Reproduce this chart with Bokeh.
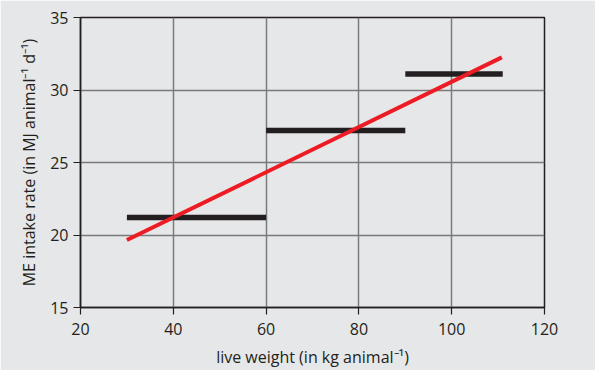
from bokeh.plotting import figure
from bokeh.models import Range1d, FixedTicker
from bokeh.embed import file_html
from bokeh.resources import INLINE

# data
step_x0 = [30, 60, 90]
step_x1 = [60, 90, 111]
step_y = [21.2, 27.2, 31.1]
fit_x = [30, 110.8]
fit_y = [19.65, 32.25]
x_ticks = [20, 40, 60, 80, 100, 120]
y_ticks = [15, 20, 25, 30, 35]

BG = "#e6e7e8"
INK = "#231f20"

p = figure(width=595, height=370, output_backend="svg", toolbar_location=None,
           x_range=Range1d(20, 120), y_range=Range1d(15, 35),
           min_border_left=80, min_border_right=51, min_border_top=17, min_border_bottom=63)
p.background_fill_color = BG
p.border_fill_color = BG
p.outline_line_color = INK
p.outline_line_width = 1.5

for ax in (p.xaxis[0], p.yaxis[0]):
    ax.axis_line_color = INK
    ax.axis_line_width = 1.5
    ax.major_tick_line_color = INK
    ax.major_tick_line_width = 1.2
    ax.major_tick_out = 7
    ax.major_tick_in = 0
    ax.minor_tick_line_color = None
    ax.major_label_text_font = "Open Sans"
    ax.major_label_text_font_size = "16px"
    ax.major_label_text_color = INK
    ax.major_label_text_line_height = 0.8
    ax.axis_label_text_font = "Open Sans"
    ax.axis_label_text_font_size = "16px"
    ax.axis_label_text_font_style = "normal"
    ax.axis_label_text_color = INK
    ax.axis_label_text_line_height = 0.7

p.xaxis.ticker = FixedTicker(ticks=x_ticks)
p.yaxis.ticker = FixedTicker(ticks=y_ticks)
p.xaxis.major_label_standoff = 8
p.yaxis.major_label_standoff = 5
p.xaxis.axis_label = "live weight (in kg animal\u207b\u00b9)"
p.yaxis.axis_label = "ME intake rate (in MJ animal\u207b\u00b9 d\u207b\u00b9)"
p.xaxis.axis_label_standoff = 8
p.yaxis.axis_label_standoff = 7

p.xgrid.ticker = FixedTicker(ticks=x_ticks)
p.ygrid.ticker = FixedTicker(ticks=y_ticks)
p.grid.grid_line_color = "#7a7a7a"
p.grid.grid_line_width = 1.5

p.segment(x0=step_x0, x1=step_x1, y0=step_y, y1=step_y, line_color=INK, line_width=5.5)
p.line(fit_x, fit_y, line_color="#ed1c24", line_width=4)

open("out.html", "w").write(file_html(p, INLINE))
